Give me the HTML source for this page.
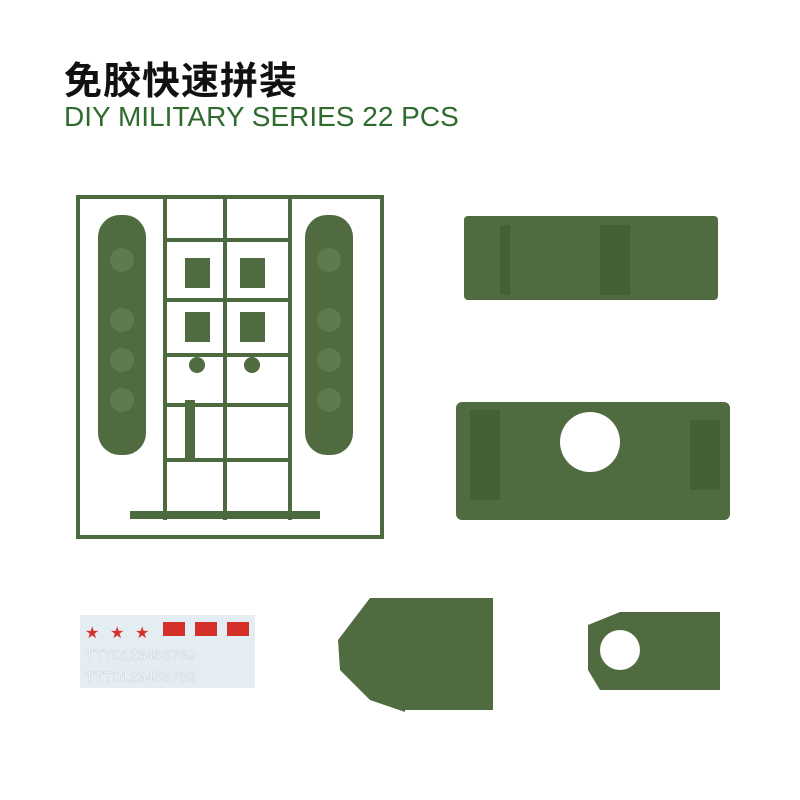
<!DOCTYPE html>
<html><head><meta charset="utf-8"><style>
body{margin:0;width:800px;height:800px;background:#fff;overflow:hidden;position:relative}
.t{position:absolute;left:64px;top:50px;font:bold 38px "Liberation Sans","Noto Sans CJK SC",sans-serif;color:#111;letter-spacing:1px}
.s{position:absolute;left:64px;top:101px;font:28px "Liberation Sans",sans-serif;color:#2f6b2f}
svg{position:absolute;left:0;top:0}
</style></head><body>
<div class="t">免胶快速拼装</div>
<div class="s">DIY MILITARY SERIES 22 PCS</div>
<svg width="800" height="800">
<g stroke="#4d6a3e" stroke-width="4" fill="none">
<rect x="78" y="197" width="304" height="340"/>
<line x1="165" y1="197" x2="165" y2="520"/><line x1="225" y1="197" x2="225" y2="520"/><line x1="290" y1="197" x2="290" y2="520"/>
<line x1="165" y1="240" x2="290" y2="240"/><line x1="165" y1="300" x2="290" y2="300"/><line x1="165" y1="355" x2="290" y2="355"/><line x1="165" y1="405" x2="290" y2="405"/><line x1="165" y1="460" x2="290" y2="460"/>
<line x1="130" y1="515" x2="320" y2="515" stroke-width="8"/>
</g>
<g fill="#4f6b3f">
<rect x="98" y="215" width="48" height="240" rx="22"/>
<rect x="305" y="215" width="48" height="240" rx="22"/>
<rect x="185" y="258" width="25" height="30"/><rect x="240" y="258" width="25" height="30"/>
<rect x="185" y="312" width="25" height="30"/><rect x="240" y="312" width="25" height="30"/>
<circle cx="197" cy="365" r="8"/><circle cx="252" cy="365" r="8"/>
<rect x="185" y="400" width="10" height="60"/>
<rect x="464" y="216" width="254" height="84" rx="4"/>
<rect x="456" y="402" width="274" height="118" rx="6"/>
<rect x="405" y="598" width="88" height="112"/>
<path d="M338 640 L370 598 L405 598 L405 712 L370 700 L340 670Z"/>
<path d="M588 625 L620 612 L720 612 L720 690 L600 690 L588 670Z"/>
</g>
<g fill="#3f5831" opacity=".6"><rect x="500" y="225" width="10" height="70"/><rect x="600" y="225" width="30" height="70"/><rect x="690" y="420" width="30" height="70"/><rect x="470" y="410" width="30" height="90"/></g>
<g fill="#fff"><circle cx="590" cy="442" r="30"/><circle cx="620" cy="650" r="20"/></g>
<g fill="#5f7a4e"><circle cx="122" cy="260" r="12"/><circle cx="122" cy="320" r="12"/><circle cx="122" cy="360" r="12"/><circle cx="122" cy="400" r="12"/><circle cx="329" cy="260" r="12"/><circle cx="329" cy="320" r="12"/><circle cx="329" cy="360" r="12"/><circle cx="329" cy="400" r="12"/></g>
<rect x="80" y="615" width="175" height="73" fill="#e4edf2"/>
<g fill="#d3302a"><rect x="163" y="622" width="22" height="14"/><rect x="195" y="622" width="22" height="14"/><rect x="227" y="622" width="22" height="14"/>
<text x="85" y="638" font-size="16" font-family="DejaVu Sans">★</text><text x="110" y="638" font-size="16" font-family="DejaVu Sans">★</text><text x="135" y="638" font-size="16" font-family="DejaVu Sans">★</text></g>
<text x="85" y="660" font-size="15" fill="#fff" stroke="#c8d2d8" stroke-width=".5" font-family="Liberation Sans">TTT0123456789</text>
<text x="85" y="682" font-size="15" fill="#fff" stroke="#c8d2d8" stroke-width=".5" font-family="Liberation Sans">TTT0123456789</text>
</svg>
</body></html>
